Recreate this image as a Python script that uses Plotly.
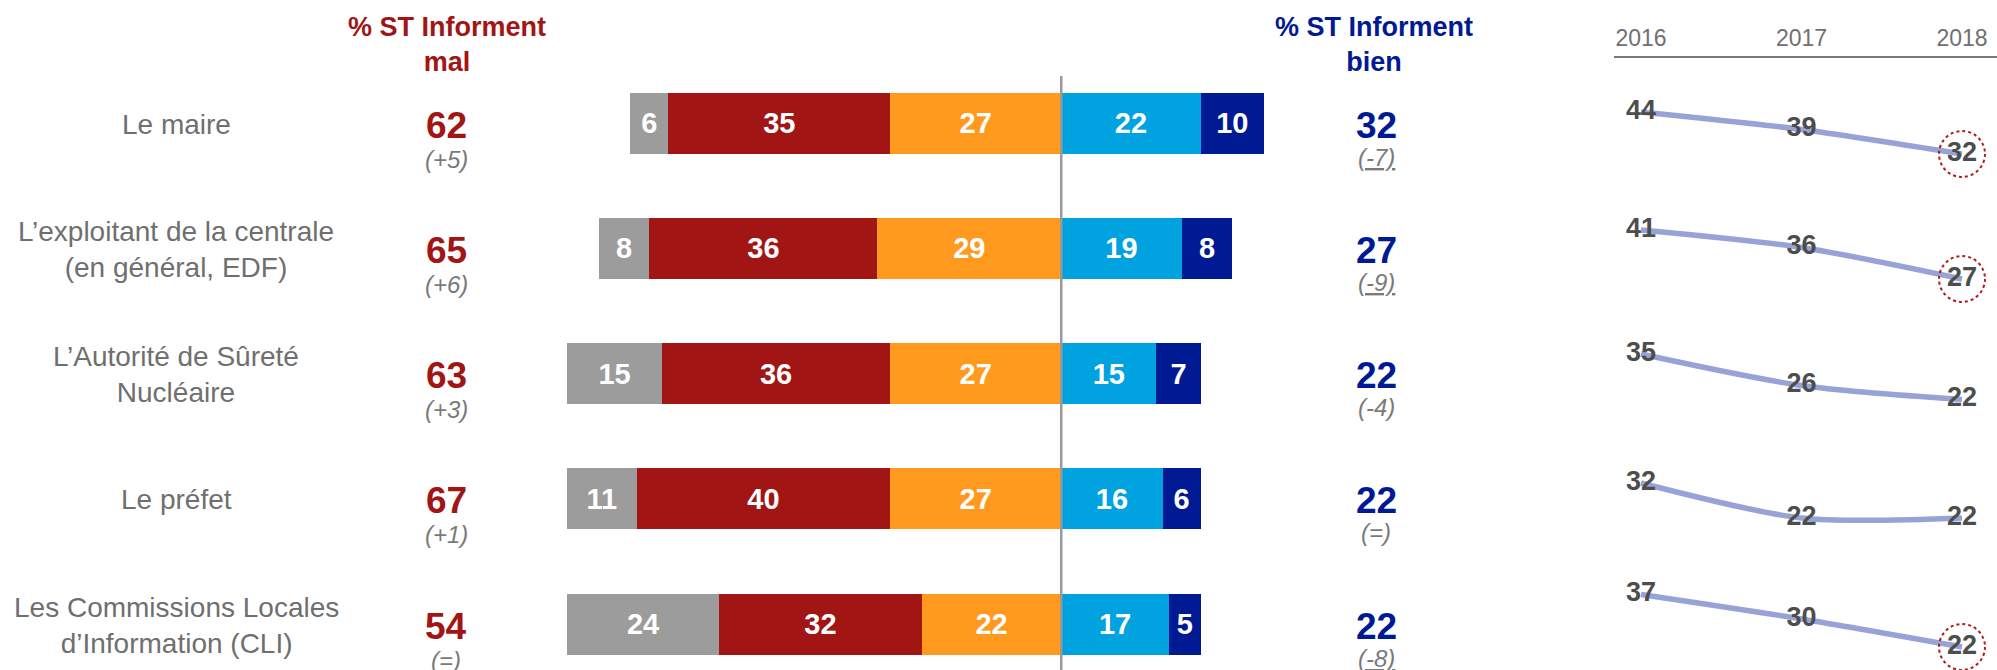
import plotly.graph_objects as go

# ---------------- data ----------------
categories = [
    "Le maire",
    "L’exploitant de la centrale<br>(en général, EDF)",
    "L’Autorité de Sûreté<br>Nucléaire",
    "Le préfet",
    "Les Commissions Locales<br>d’Information (CLI)",
]
nsp = [6, 8, 15, 11, 24]            # grey
tres_mal = [35, 36, 36, 40, 32]     # dark red
plutot_mal = [27, 29, 27, 27, 22]   # orange
plutot_bien = [22, 19, 15, 16, 17]  # light blue
tres_bien = [10, 8, 7, 6, 5]        # navy

st_mal = [62, 65, 63, 67, 54]
evo_mal = ["(+5)", "(+6)", "(+3)", "(+1)", "(=)"]
st_bien = [32, 27, 22, 22, 22]
evo_bien = ["(-7)", "(-9)", "(-4)", "(=)", "(-8)"]
signif_bien = [True, True, False, False, True]

years = [2016, 2017, 2018]
trend_le_maire = [44, 39, 32]
trend_exploitant = [41, 36, 27]
trend_asn = [35, 26, 22]
trend_prefet = [32, 22, 22]
trend_cli = [37, 30, 22]
trends = [trend_le_maire, trend_exploitant, trend_asn, trend_prefet, trend_cli]

# ---------------- style ----------------
W, H = 1997, 670
FONT = "Liberation Sans, Arial, Helvetica, sans-serif"
C_GREY = "#9c9c9c"
C_RED = "#a11515"
C_ORANGE = "#ff9a1f"
C_LBLUE = "#00a2df"
C_NAVY = "#001a94"
C_LABEL = "#6f6f6f"
C_SUB = "#7a7a7a"
C_LINE = "#97a3d6"
C_NUM = "#4d4d4d"

rows = list(range(len(categories)))

fig = go.Figure()


def add_bar(vals, color, sign):
    fig.add_trace(go.Bar(
        x=[sign * v for v in vals],
        y=rows,
        orientation="h",
        width=0.487,
        marker=dict(color=color, line=dict(width=0)),
        text=[f"<b>{v}</b>" for v in vals],
        textposition="inside",
        insidetextanchor="middle",
        textangle=0,
        textfont=dict(color="white", size=29, family=FONT),
        hoverinfo="skip",
        xaxis="x", yaxis="y",
    ))


# negative side: from center outward
add_bar(plutot_mal, C_ORANGE, -1)
add_bar(tres_mal, C_RED, -1)
add_bar(nsp, C_GREY, -1)
# positive side
add_bar(plutot_bien, C_LBLUE, 1)
add_bar(tres_bien, C_NAVY, 1)

# ---------------- trend lines ----------------
line_yaxes = ["y2", "y3", "y4", "y5", "y6"]
for i, tr in enumerate(trends):
    fig.add_trace(go.Scatter(
        x=years, y=tr,
        mode="lines+text",
        line=dict(color=C_LINE, width=5.5, shape="spline", smoothing=0.8),
        text=[f"<b>{v}</b>" for v in tr],
        textposition="middle center",
        textfont=dict(color=C_NUM, size=27, family=FONT),
        cliponaxis=False,
        hoverinfo="skip",
        xaxis="x2", yaxis=line_yaxes[i],
    ))

# ---------------- layout ----------------
row_top = 123.0
row_step = 125.25
bar_range = [(H - row_top) / row_step, -row_top / row_step]

line_top_px = 58
line_dom_top = 1 - line_top_px / H
s = 3.5
span = (H - line_top_px) / s
zero_px = [266, 373.5, 476.5, 595, 724]
line_ranges = []
for a in zero_px:
    hi = (a - line_top_px) / s
    line_ranges.append([hi - span, hi])

layout = dict(
    width=W, height=H,
    margin=dict(l=0, r=0, t=0, b=0),
    paper_bgcolor="white", plot_bgcolor="white",
    showlegend=False,
    barmode="relative",
    bargap=0,
    font=dict(family=FONT),
    xaxis=dict(domain=[567 / W, 1264 / W], range=[-78, 32], visible=False, fixedrange=True),
    yaxis=dict(domain=[0, 1], range=bar_range, visible=False, fixedrange=True),
    xaxis2=dict(
        domain=[1614 / W, 1],
        range=[2016 - 27 / 160.5, 2016 + (W - 1641) / 160.5],
        side="top", anchor="y2",
        showline=True, linecolor="#7a7a7a", linewidth=2.5,
        showgrid=False, zeroline=False, fixedrange=True,
        tickvals=years, ticktext=[str(y) for y in years],
        tickfont=dict(size=23, color="#707070", family=FONT),
        ticks="", ticklabelstandoff=0,
    ),
)
for i, ya in enumerate(line_yaxes):
    key = "yaxis" + ya[1:]
    d = dict(range=line_ranges[i], visible=False, fixedrange=True, anchor="x2")
    if i == 0:
        d["domain"] = [0, line_dom_top]
    else:
        d["overlaying"] = "y2"
    layout[key] = d
fig.update_layout(**layout)

# centre line
fig.add_shape(type="line", xref="x", yref="paper", x0=0, x1=0,
              y0=0, y1=1 - 76 / H, line=dict(color="#9a9a9a", width=2.5), layer="above")

# dotted circles on significant 2018 values
for i, tr in enumerate(trends):
    if signif_bien[i]:
        fig.add_shape(type="circle", xref="x2", yref=line_yaxes[i],
                      xsizemode="pixel", ysizemode="pixel",
                      xanchor=years[-1], yanchor=tr[-1],
                      x0=-23, x1=23, y0=-23, y1=23,
                      line=dict(color="#b01a1a", width=2, dash="dot"),
                      layer="above")

ann = []
# headers
ann.append(dict(x=447 / W, y=1 - 45 / H, xref="paper", yref="paper",
                xanchor="center", yanchor="middle",
                text="<b>% ST Informent<br>mal</b>", showarrow=False,
                font=dict(size=27, color=C_RED, family=FONT), align="center"))
ann.append(dict(x=1374 / W, y=1 - 45 / H, xref="paper", yref="paper",
                xanchor="center", yanchor="middle",
                text="<b>% ST Informent<br>bien</b>", showarrow=False,
                font=dict(size=27, color=C_NAVY, family=FONT), align="center"))

for i in rows:
    ann.append(dict(x=176 / W, y=i, xref="paper", yref="y", yshift=-1,
                    xanchor="center", yanchor="middle",
                    text=categories[i], showarrow=False, align="center",
                    font=dict(size=28, color=C_LABEL, family=FONT)))
    ann.append(dict(x=446 / W, y=i, xref="paper", yref="y", yshift=-2,
                    xanchor="center", yanchor="middle",
                    text=f"<b>{st_mal[i]}</b>", showarrow=False,
                    font=dict(size=37, color=C_RED, family=FONT)))
    ann.append(dict(x=446 / W, y=i, xref="paper", yref="y", yshift=-36,
                    xanchor="center", yanchor="middle",
                    text=f"<i>{evo_mal[i]}</i>", showarrow=False,
                    font=dict(size=24, color=C_SUB, family=FONT)))
    ann.append(dict(x=1376 / W, y=i, xref="paper", yref="y", yshift=-2,
                    xanchor="center", yanchor="middle",
                    text=f"<b>{st_bien[i]}</b>", showarrow=False,
                    font=dict(size=37, color=C_NAVY, family=FONT)))
    sub = f"<i>{evo_bien[i]}</i>"
    if signif_bien[i]:
        sub = f"<span style='text-decoration:underline'>{sub}</span>"
    ann.append(dict(x=1376 / W, y=i, xref="paper", yref="y", yshift=-34,
                    xanchor="center", yanchor="middle",
                    text=sub, showarrow=False,
                    font=dict(size=24, color=C_SUB, family=FONT)))
fig.update_layout(annotations=ann)

fig.write_html(
    "out.html",
    config={"displayModeBar": False, "staticPlot": True},
    post_script="document.body.style.margin='0';document.body.style.overflow='hidden';",
)
